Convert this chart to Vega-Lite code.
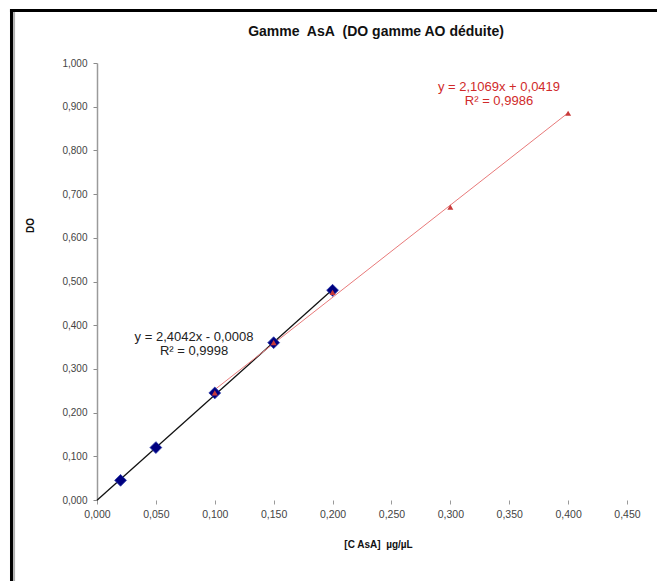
{
  "$schema": "https://vega.github.io/schema/vega-lite/v6.json",
  "width": 530,
  "height": 437,
  "autosize": {"type": "none"},
  "padding": {"left": 97, "top": 63, "right": 30, "bottom": 81},
  "background": "white",
  "config": {
    "locale": {"number": {"decimal": ",", "thousands": " ", "grouping": [3], "currency": ["", " €"]}},
    "view": {"stroke": null},
    "font": "Liberation Sans"
  },
  "title": {
    "text": "Gamme\u00a0 AsA\u00a0 (DO gamme AO déduite)",
    "font": "Liberation Sans",
    "fontSize": 14,
    "fontWeight": "bold",
    "color": "#111111",
    "anchor": "middle",
    "offset": 0,
    "dx": 14,
    "dy": 32
  },
  "datasets": {
    "mesures": [
      {"serie": "AsA", "c": 0.02, "do": 0.045},
      {"serie": "AsA", "c": 0.05, "do": 0.120},
      {"serie": "AsA", "c": 0.10, "do": 0.245},
      {"serie": "AsA", "c": 0.15, "do": 0.360},
      {"serie": "AsA", "c": 0.20, "do": 0.480},
      {"serie": "AO", "c": 0.10, "do": 0.245},
      {"serie": "AO", "c": 0.15, "do": 0.360},
      {"serie": "AO", "c": 0.20, "do": 0.475},
      {"serie": "AO", "c": 0.30, "do": 0.670},
      {"serie": "AO", "c": 0.40, "do": 0.885}
    ],
    "cadre": [{"k": 1}]
  },
  "layer": [
    {
      "data": {"name": "cadre"},
      "mark": {"type": "rule", "clip": false, "color": "#000000", "strokeWidth": 3},
      "encoding": {
        "x": {"datum": -0.0726, "type": "quantitative"},
        "y": {"datum": 1.1236, "type": "quantitative"},
        "y2": {"datum": -0.19}
      }
    },
    {
      "data": {"name": "cadre"},
      "mark": {"type": "rule", "clip": false, "color": "#b0b0b0", "strokeWidth": 2},
      "encoding": {
        "x": {"datum": -0.0704, "type": "quantitative"},
        "y": {"datum": 1.117, "type": "quantitative"},
        "y2": {"datum": -0.19}
      }
    },
    {
      "data": {"name": "cadre"},
      "mark": {"type": "rule", "clip": false, "color": "#000000", "strokeWidth": 3},
      "encoding": {
        "x": {"datum": -0.0739, "type": "quantitative"},
        "x2": {"datum": 0.48},
        "y": {"datum": 1.1201, "type": "quantitative"}
      }
    },
    {
      "data": {"name": "mesures"},
      "transform": [
        {"filter": "datum.serie === 'AsA'"},
        {"regression": "do", "on": "c", "extent": [0, 0.2]}
      ],
      "mark": {"type": "line", "color": "#111111", "strokeWidth": 1.3},
      "encoding": {
        "x": {"field": "c", "type": "quantitative", "title": "[C AsA]\u00a0 µg/µL"},
        "y": {"field": "do", "type": "quantitative", "title": "DO"}
      }
    },
    {
      "data": {"name": "mesures"},
      "transform": [
        {"filter": "datum.serie === 'AO'"},
        {"regression": "do", "on": "c", "extent": [0.1, 0.4]}
      ],
      "mark": {"type": "line", "color": "#e87a7a", "strokeWidth": 1},
      "encoding": {
        "x": {"field": "c", "type": "quantitative", "title": "[C AsA]\u00a0 µg/µL"},
        "y": {"field": "do", "type": "quantitative", "title": "DO"}
      }
    },
    {
      "data": {"name": "mesures"},
      "transform": [{"filter": "datum.serie === 'AsA'"}],
      "mark": {"type": "point", "shape": "diamond", "filled": true, "size": 140, "color": "#000080", "stroke": "#2a3aa8", "strokeWidth": 0.8, "opacity": 1},
      "encoding": {
        "x": {
          "field": "c",
          "type": "quantitative",
          "title": "[C AsA]\u00a0 µg/µL",
          "scale": {"domain": [0, 0.45], "nice": false, "zero": false},
          "axis": {
            "values": [0, 0.05, 0.1, 0.15, 0.2, 0.25, 0.3, 0.35, 0.4, 0.45],
            "format": ".3f",
            "grid": false,
            "domain": false,
            "tickColor": "#9a9a9a",
            "tickSize": 4,
            "labelFlush": false,
            "labelFont": "Liberation Sans",
            "labelFontSize": 10.5,
            "labelColor": "#444444",
            "labelPadding": 5,
            "titleFont": "Liberation Sans",
            "titleFontSize": 10,
            "titleFontWeight": "bold",
            "titleColor": "#111111",
            "titleX": 281,
            "titlePadding": 20
          }
        },
        "y": {
          "field": "do",
          "type": "quantitative",
          "title": "DO",
          "scale": {"domain": [0, 1], "nice": false},
          "axis": {
            "values": [0, 0.1, 0.2, 0.3, 0.4, 0.5, 0.6, 0.7, 0.8, 0.9, 1],
            "format": ".3f",
            "grid": false,
            "domainColor": "#9a9a9a",
            "domainWidth": 1.5,
            "tickColor": "#8a8a8a",
            "tickSize": 4,
            "labelFlush": false,
            "labelFont": "Liberation Sans",
            "labelFontSize": 10,
            "labelColor": "#444444",
            "labelPadding": 6,
            "titleFont": "Liberation Sans",
            "titleFontSize": 10,
            "titleFontWeight": "bold",
            "titleColor": "#111111",
            "titleX": -67,
            "titleY": 162,
            "titleBaseline": "middle"
          }
        }
      }
    },
    {
      "data": {"name": "mesures"},
      "transform": [{"filter": "datum.serie === 'AO'"}],
      "mark": {"type": "point", "shape": "triangle-up", "filled": true, "size": 36, "color": "#c83a3a", "opacity": 1},
      "encoding": {
        "x": {"field": "c", "type": "quantitative", "title": "[C AsA]\u00a0 µg/µL"},
        "y": {"field": "do", "type": "quantitative", "title": "DO"}
      }
    },
    {
      "data": {"name": "cadre"},
      "mark": {"type": "text", "align": "center", "baseline": "middle", "font": "Liberation Sans", "fontSize": 13, "color": "#222222", "lineHeight": 14},
      "encoding": {
        "x": {"datum": 0.0824, "type": "quantitative"},
        "y": {"datum": 0.372, "type": "quantitative"},
        "text": {"value": ["y = 2,4042x - 0,0008", "R² = 0,9998"]}
      }
    },
    {
      "data": {"name": "cadre"},
      "mark": {"type": "text", "align": "center", "baseline": "middle", "font": "Liberation Sans", "fontSize": 13, "color": "#d02a2a", "lineHeight": 14},
      "encoding": {
        "x": {"datum": 0.3413, "type": "quantitative"},
        "y": {"datum": 0.944, "type": "quantitative"},
        "text": {"value": ["y = 2,1069x + 0,0419", "R² = 0,9986"]}
      }
    }
  ]
}
